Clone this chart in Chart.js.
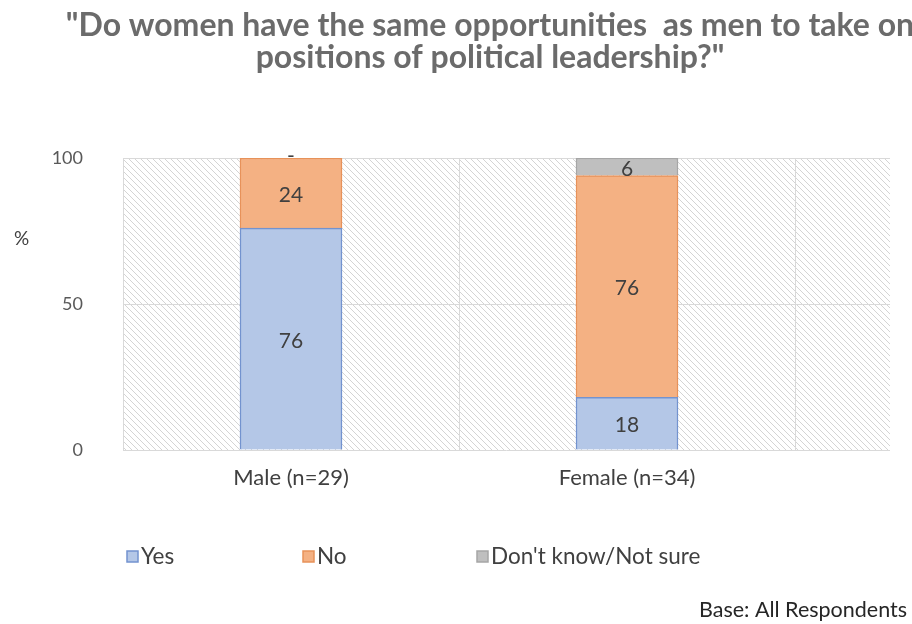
<!DOCTYPE html>
<html>
<head>
<meta charset="utf-8">
<script src="https://cdn.jsdelivr.net/npm/chart.js@4"></script>
<style>
  html, body { margin: 0; padding: 0; background: #fff; overflow: hidden; }
  #wrap { width: 912px; height: 624px; overflow: hidden; }
  #box { width: 980px; height: 624px; }
</style>
</head>
<body>
<div id="wrap"><div id="box"><canvas id="leadChart"></canvas></div></div>
<script>
// data
const categories = ['Male (n=29)', 'Female (n=34)'];
const seriesNames = ['Yes', 'No', "Don't know/Not sure"];
const yesValues = [76, 18];
const noValues = [24, 76];
const dontKnowValues = [0, 6];
const yTicks = [0, 50, 100];
const titleLines = ['"Do women have the same opportunities  as men to take on', 'positions of political leadership?"'];
const baseNote = 'Base: All Respondents';

const FONT = 'Lato, "Open Sans", sans-serif';
const fills = ['#b4c7e7', '#f4b183', '#bfbfbf'];
const borders = ['#7393cf', '#e7925a', '#a6a6a6'];

// diagonal hatch for the plot background
function makeHatch() {
    const c = document.createElement('canvas');
    c.width = 6; c.height = 6;
    const g = c.getContext('2d');
    g.fillStyle = '#fff';
    g.fillRect(0, 0, 6, 6);
    g.strokeStyle = '#d4d4d4';
    g.lineWidth = 1;
    g.beginPath();
    g.moveTo(-1, -1); g.lineTo(7, 7);
    g.moveTo(-1, 5); g.lineTo(1, 7);
    g.moveTo(5, -1); g.lineTo(7, 1);
    g.stroke();
    return c;
}

const hatchPlugin = {
    id: 'hatch',
    beforeDraw(chart) {
        const { ctx, chartArea: a } = chart;
        ctx.save();
        ctx.fillStyle = ctx.createPattern(makeHatch(), 'repeat');
        ctx.fillRect(a.left, a.top, a.right - a.left, a.bottom - a.top);
        ctx.restore();
    }
};

// value labels inside each bar segment
const valueLabels = {
    id: 'valueLabels',
    afterDatasetsDraw(chart) {
        const { ctx } = chart;
        ctx.save();
        ctx.fillStyle = '#404040';
        ctx.font = '21px ' + FONT;
        ctx.textAlign = 'center';
        ctx.textBaseline = 'middle';
        chart.data.datasets.forEach((ds, di) => {
            chart.getDatasetMeta(di).data.forEach((bar, i) => {
                const v = ds.data[i].y;
                if (v === 0) {
                    ctx.fillText('-', bar.x, bar.y - 2);
                } else {
                    ctx.fillText(String(v), bar.x, (bar.y + bar.base) / 2 + 2);
                }
            });
        });
        ctx.restore();
    }
};

// title (centred on the original wider chart), "%" label, legend and base note
const extras = {
    id: 'extras',
    afterDraw(chart) {
        const { ctx } = chart;
        ctx.save();
        ctx.textAlign = 'center';
        ctx.textBaseline = 'alphabetic';
        ctx.fillStyle = '#6b6b6b';
        ctx.font = 'bold 32px ' + FONT;
        titleLines.forEach((line, i) => ctx.fillText(line, chart.width / 2, 36 + i * 32));

        ctx.textAlign = 'left';
        ctx.textBaseline = 'middle';
        ctx.fillStyle = '#404040';
        ctx.font = '19px ' + FONT;
        ctx.fillText('%', 14, 239);

        const starts = [127, 303, 477];
        ctx.font = '22.5px ' + FONT;
        seriesNames.forEach((name, i) => {
            const x = starts[i];
            ctx.fillStyle = fills[i];
            ctx.fillRect(x, 551, 11, 11);
            ctx.strokeStyle = borders[i];
            ctx.lineWidth = 1.5;
            ctx.strokeRect(x, 551, 11, 11);
            ctx.fillStyle = '#404040';
            ctx.fillText(name, x + 14, 557);
        });

        ctx.fillStyle = '#262626';
        ctx.font = '21.5px ' + FONT;
        ctx.fillText(baseNote, 699, 610);
        ctx.restore();
    }
};

const datasets = [yesValues, noValues, dontKnowValues].map((vals, k) => ({
    label: seriesNames[k],
    data: vals.map((v, i) => ({ x: i + 0.5, y: v })),
    backgroundColor: fills[k],
    borderColor: borders[k],
    borderWidth: 1.5,
    barThickness: 102
}));

new Chart(document.getElementById('leadChart'), {
    type: 'bar',
    data: { datasets },
    plugins: [hatchPlugin, valueLabels, extras],
    options: {
        responsive: true,
        maintainAspectRatio: false,
        animation: false,
        layout: { padding: { left: 0, right: 90, top: 158, bottom: 0 } },
        plugins: {
            legend: { display: false },
            tooltip: { enabled: false },
            title: { display: false }
        },
        scales: {
            x: {
                type: 'linear',
                stacked: true,
                offset: false,
                min: 0,
                max: 767 / 336,
                afterBuildTicks(s) {
                    s.ticks = [0, 0.5, 1, 1.5, 2].map(v => ({ value: v }));
                },
                afterFit(s) { s.height = 174; },
                border: { display: false },
                grid: {
                    offset: false,
                    drawTicks: false,
                    color: c => (c.tick && c.tick.value % 1 === 0) ? '#d9d9d9' : 'rgba(0,0,0,0)'
                },
                ticks: {
                    padding: 15,
                    color: '#404040',
                    font: { family: FONT, size: 22 },
                    maxRotation: 0,
                    autoSkip: false,
                    callback: v => (v % 1 !== 0) ? categories[Math.floor(v)] : ''
                }
            },
            y: {
                stacked: true,
                min: 0,
                max: 100,
                afterBuildTicks(s) {
                    s.ticks = yTicks.map(v => ({ value: v }));
                },
                afterFit(s) { s.width = 123; },
                border: { display: false },
                grid: { drawTicks: false, color: '#d9d9d9' },
                ticks: {
                    padding: 40,
                    color: '#595959',
                    font: { family: FONT, size: 18 }
                }
            }
        }
    }
});
</script>
</body>
</html>
